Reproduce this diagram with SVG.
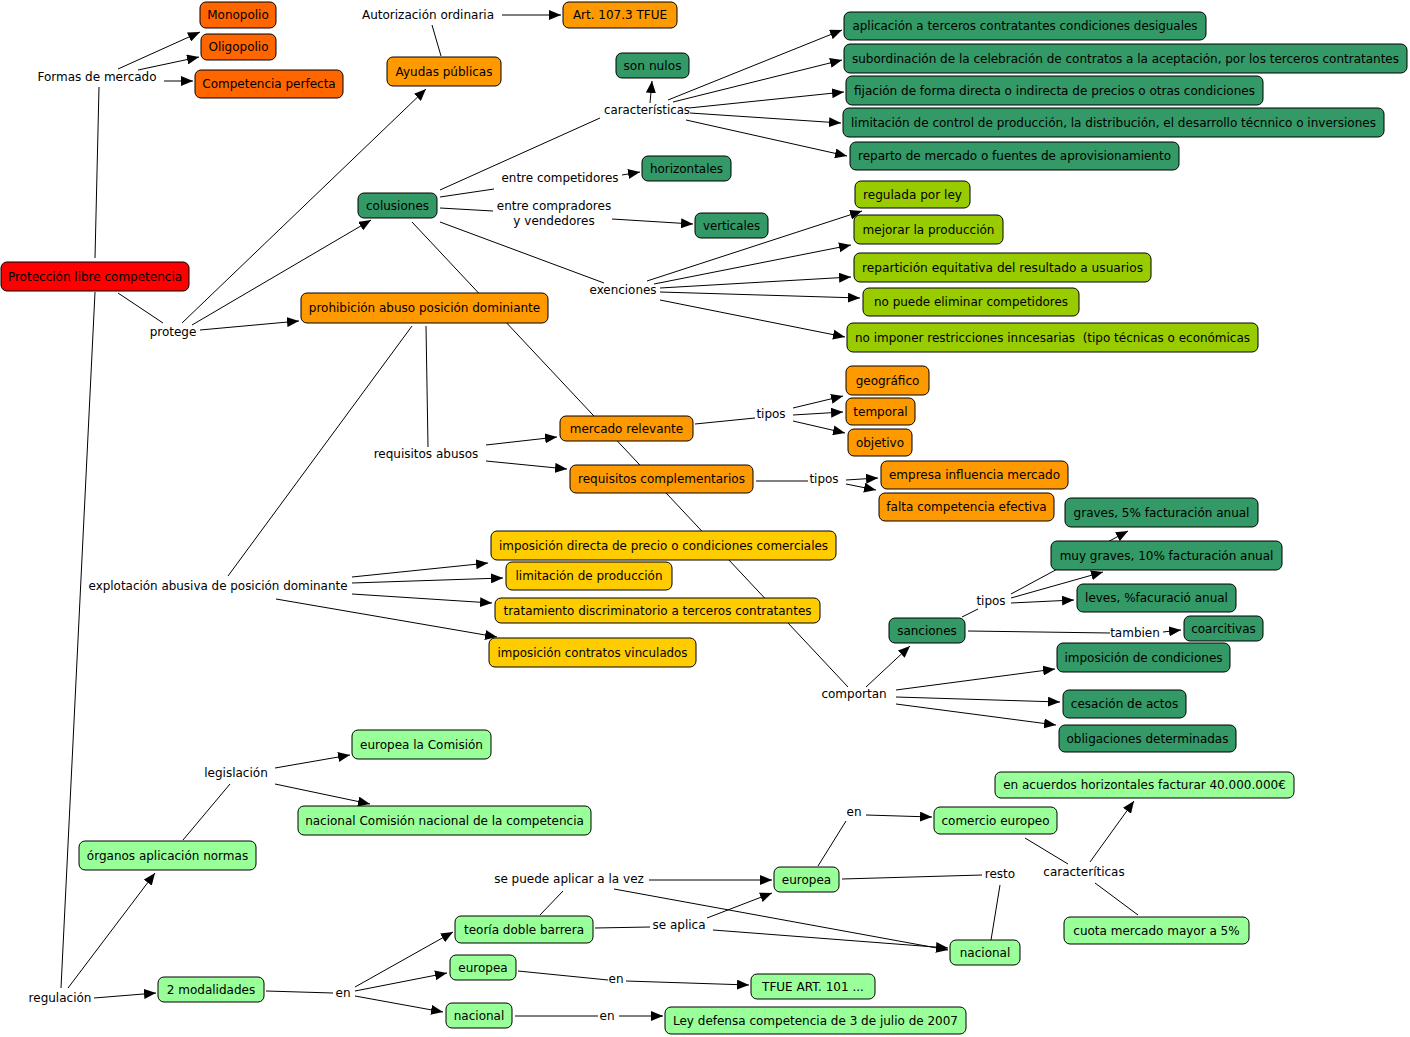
<svg xmlns="http://www.w3.org/2000/svg" width="1410" height="1037" viewBox="0 0 1410 1037">
<style>
text{font-family:"DejaVu Sans",Verdana,sans-serif;font-size:12px;fill:#000;text-anchor:middle}
.n rect{stroke:#000;stroke-width:1}
.o1 rect{fill:#ff6600}.o2 rect{fill:#ff9900}.g rect{fill:#339966}.l rect{fill:#99cc00}.y rect{fill:#ffcc00}.lg rect{fill:#99ff99}.r rect{fill:#ff0000}
#conn line{stroke:#000;stroke-width:1}
#conn .a{marker-end:url(#ah)}
</style>
<defs>
<marker id="ah" markerWidth="12" markerHeight="10" refX="12" refY="5" orient="auto" markerUnits="userSpaceOnUse"><path d="M0,0 L12,5 L0,10 z" fill="#000"/></marker>
</defs>
<rect width="1410" height="1037" fill="#fff"/>
<g id="conn">
<line class="a" x1="118" y1="69" x2="200" y2="32"/>
<line class="a" x1="138" y1="70" x2="199" y2="57"/>
<line class="a" x1="164" y1="81" x2="193" y2="81"/>
<line x1="95" y1="258" x2="99" y2="87"/>
<line class="a" x1="502" y1="15" x2="561" y2="15"/>
<line x1="441" y1="56" x2="432" y2="25"/>
<line class="a" x1="182" y1="323" x2="426" y2="89"/>
<line class="a" x1="192" y1="325" x2="371" y2="220"/>
<line class="a" x1="200" y1="330" x2="299" y2="321"/>
<line x1="118" y1="293" x2="163" y2="323"/>
<line x1="440" y1="190" x2="600" y2="118"/>
<line class="a" x1="650" y1="103" x2="652" y2="81"/>
<line class="a" x1="668" y1="100" x2="842" y2="30"/>
<line class="a" x1="673" y1="102" x2="842" y2="60"/>
<line class="a" x1="689" y1="108" x2="844" y2="92"/>
<line class="a" x1="690" y1="113" x2="841" y2="123"/>
<line class="a" x1="686" y1="120" x2="847" y2="156"/>
<line x1="440" y1="197" x2="494" y2="189"/>
<line x1="440" y1="208" x2="493" y2="211"/>
<line x1="440" y1="222" x2="604" y2="283"/>
<line x1="412" y1="222" x2="848" y2="687"/>
<line class="a" x1="622" y1="175" x2="640" y2="172"/>
<line class="a" x1="612" y1="219" x2="693" y2="224"/>
<line class="a" x1="647" y1="281" x2="862" y2="211"/>
<line class="a" x1="654" y1="284" x2="851" y2="245"/>
<line class="a" x1="660" y1="288" x2="851" y2="277"/>
<line class="a" x1="660" y1="292" x2="860" y2="298"/>
<line class="a" x1="660" y1="300" x2="845" y2="337"/>
<line x1="412" y1="326" x2="228" y2="576"/>
<line x1="426" y1="326" x2="428" y2="447"/>
<line class="a" x1="486" y1="445" x2="557" y2="437"/>
<line class="a" x1="486" y1="461" x2="567" y2="469"/>
<line x1="695" y1="424" x2="755" y2="418"/>
<line class="a" x1="793" y1="408" x2="843" y2="396"/>
<line class="a" x1="793" y1="415" x2="843" y2="412"/>
<line class="a" x1="793" y1="421" x2="845" y2="433"/>
<line x1="756" y1="481" x2="808" y2="481"/>
<line class="a" x1="846" y1="480" x2="878" y2="478"/>
<line class="a" x1="846" y1="484" x2="876" y2="490"/>
<line class="a" x1="352" y1="577" x2="488" y2="563"/>
<line class="a" x1="352" y1="583" x2="503" y2="578"/>
<line class="a" x1="352" y1="594" x2="492" y2="603"/>
<line class="a" x1="276" y1="599" x2="497" y2="637"/>
<line class="a" x1="866" y1="687" x2="910" y2="646"/>
<line class="a" x1="896" y1="690" x2="1055" y2="669"/>
<line class="a" x1="896" y1="697" x2="1060" y2="702"/>
<line class="a" x1="896" y1="704" x2="1056" y2="725"/>
<line x1="962" y1="617" x2="978" y2="609"/>
<line class="a" x1="1011" y1="594" x2="1128" y2="531"/>
<line class="a" x1="1011" y1="598" x2="1103" y2="572"/>
<line class="a" x1="1011" y1="603" x2="1074" y2="600"/>
<line x1="968" y1="631" x2="1110" y2="633"/>
<line class="a" x1="1163" y1="632" x2="1181" y2="630"/>
<line x1="95" y1="292" x2="61" y2="988"/>
<line class="a" x1="68" y1="988" x2="155" y2="873"/>
<line class="a" x1="94" y1="998" x2="156" y2="993"/>
<line x1="183" y1="840" x2="230" y2="784"/>
<line class="a" x1="275" y1="768" x2="350" y2="755"/>
<line class="a" x1="275" y1="784" x2="370" y2="804"/>
<line x1="266" y1="991" x2="333" y2="993"/>
<line class="a" x1="355" y1="987" x2="453" y2="932"/>
<line class="a" x1="355" y1="991" x2="447" y2="973"/>
<line class="a" x1="355" y1="996" x2="443" y2="1012"/>
<line x1="518" y1="971" x2="608" y2="980"/>
<line class="a" x1="626" y1="981" x2="749" y2="985"/>
<line x1="515" y1="1016" x2="598" y2="1016"/>
<line class="a" x1="619" y1="1016" x2="663" y2="1016"/>
<line x1="540" y1="915" x2="563" y2="891"/>
<line class="a" x1="649" y1="880" x2="772" y2="880"/>
<line class="a" x1="614" y1="889" x2="948" y2="950"/>
<line x1="595" y1="928" x2="650" y2="927"/>
<line class="a" x1="707" y1="918" x2="772" y2="893"/>
<line class="a" x1="713" y1="930" x2="948" y2="948"/>
<line x1="818" y1="866" x2="846" y2="821"/>
<line class="a" x1="866" y1="815" x2="932" y2="817"/>
<line x1="842" y1="879" x2="982" y2="875"/>
<line x1="991" y1="940" x2="1000" y2="885"/>
<line x1="1025" y1="838" x2="1068" y2="864"/>
<line class="a" x1="1090" y1="862" x2="1134" y2="801"/>
<line x1="1138" y1="915" x2="1095" y2="883"/>
</g>
<g id="n1" class="n o1"><rect x="200" y="2" width="76" height="26" rx="6"/><text x="238" y="19">Monopolio</text></g>
<g id="n2" class="n o1"><rect x="201" y="34" width="75" height="26" rx="6"/><text x="238.5" y="51">Oligopolio</text></g>
<g id="n3" class="n o1"><rect x="195" y="70" width="148" height="28" rx="6"/><text x="269" y="88">Competencia perfecta</text></g>
<g id="n4" class="n o2"><rect x="563" y="2" width="114" height="26" rx="6"/><text x="620" y="19">Art. 107.3 TFUE</text></g>
<g id="n5" class="n o2"><rect x="387" y="57" width="114" height="29" rx="6"/><text x="444" y="75.5">Ayudas públicas</text></g>
<g id="n6" class="n g"><rect x="616" y="53" width="73" height="25" rx="6"/><text x="652.5" y="69.5" textLength="58" lengthAdjust="spacingAndGlyphs">son nulos</text></g>
<g id="n7" class="n g"><rect x="844" y="12" width="362" height="28" rx="6"/><text x="1025" y="30" textLength="345" lengthAdjust="spacingAndGlyphs">aplicación a terceros contratantes condiciones desiguales</text></g>
<g id="n8" class="n g"><rect x="844" y="44" width="563" height="29" rx="6"/><text x="1125.5" y="62.5" textLength="547" lengthAdjust="spacingAndGlyphs">subordinación de la celebración de contratos a la aceptación, por los terceros contratantes</text></g>
<g id="n9" class="n g"><rect x="846" y="76" width="417" height="29" rx="6"/><text x="1054.5" y="94.5" textLength="401" lengthAdjust="spacingAndGlyphs">fijación de forma directa o indirecta de precios o otras condiciones</text></g>
<g id="n10" class="n g"><rect x="843" y="108" width="541" height="29" rx="6"/><text x="1113.5" y="126.5" textLength="525" lengthAdjust="spacingAndGlyphs">limitación de control de producción, la distribución, el desarrollo técnnico o inversiones</text></g>
<g id="n11" class="n g"><rect x="850" y="142" width="329" height="28" rx="6"/><text x="1014.5" y="160" textLength="313" lengthAdjust="spacingAndGlyphs">reparto de mercado o fuentes de aprovisionamiento</text></g>
<g id="n12" class="n g"><rect x="642" y="156" width="89" height="25" rx="6"/><text x="686.5" y="172.5" textLength="73" lengthAdjust="spacingAndGlyphs">horizontales</text></g>
<g id="n13" class="n g"><rect x="358" y="193" width="79" height="25" rx="6"/><text x="397.5" y="209.5">colusiones</text></g>
<g id="n14" class="n g"><rect x="695" y="213" width="73" height="25" rx="6"/><text x="731.5" y="229.5" textLength="57" lengthAdjust="spacingAndGlyphs">verticales</text></g>
<g id="n15" class="n l"><rect x="855" y="181" width="115" height="27" rx="6"/><text x="912.5" y="198.5" textLength="99" lengthAdjust="spacingAndGlyphs">regulada por ley</text></g>
<g id="n16" class="n l"><rect x="854" y="215" width="149" height="29" rx="6"/><text x="928.5" y="233.5" textLength="132" lengthAdjust="spacingAndGlyphs">mejorar la producción</text></g>
<g id="n17" class="n l"><rect x="854" y="253" width="297" height="29" rx="6"/><text x="1002.5" y="271.5" textLength="281" lengthAdjust="spacingAndGlyphs">repartición equitativa del resultado a usuarios</text></g>
<g id="n18" class="n l"><rect x="863" y="288" width="216" height="28" rx="6"/><text x="971" y="306" textLength="194" lengthAdjust="spacingAndGlyphs">no puede eliminar competidores</text></g>
<g id="n19" class="n l"><rect x="847" y="323" width="411" height="29" rx="6"/><text x="1052.5" y="341.5" textLength="395" lengthAdjust="spacingAndGlyphs" style="white-space:pre">no imponer restricciones inncesarias  (tipo técnicas o económicas</text></g>
<g id="n20" class="n r"><rect x="1" y="262" width="188" height="29" rx="6"/><text x="95" y="280.5">Protección libre competencia</text></g>
<g id="n21" class="n o2"><rect x="301" y="293" width="247" height="30" rx="6"/><text x="424.5" y="312">prohibición abuso posición dominiante</text></g>
<g id="n22" class="n o2"><rect x="560" y="416" width="133" height="25" rx="6"/><text x="626.5" y="432.5">mercado relevante</text></g>
<g id="n23" class="n o2"><rect x="846" y="366" width="83" height="29" rx="6"/><text x="887.5" y="384.5">geográfico</text></g>
<g id="n24" class="n o2"><rect x="846" y="398" width="69" height="27" rx="6"/><text x="880.5" y="415.5">temporal</text></g>
<g id="n25" class="n o2"><rect x="848" y="429" width="64" height="27" rx="6"/><text x="880" y="446.5">objetivo</text></g>
<g id="n26" class="n o2"><rect x="570" y="465" width="183" height="28" rx="6"/><text x="661.5" y="483">requisitos complementarios</text></g>
<g id="n27" class="n o2"><rect x="881" y="461" width="187" height="28" rx="6"/><text x="974.5" y="479">empresa influencia mercado</text></g>
<g id="n28" class="n o2"><rect x="879" y="493" width="175" height="28" rx="6"/><text x="966.5" y="511">falta competencia efectiva</text></g>
<g id="n29" class="n y"><rect x="491" y="531" width="345" height="29" rx="6"/><text x="663.5" y="549.5" textLength="329" lengthAdjust="spacingAndGlyphs">imposición directa de precio o condiciones comerciales</text></g>
<g id="n30" class="n y"><rect x="506" y="562" width="166" height="28" rx="6"/><text x="589" y="580" textLength="147" lengthAdjust="spacingAndGlyphs">limitación de producción</text></g>
<g id="n31" class="n y"><rect x="495" y="598" width="325" height="25" rx="6"/><text x="657.5" y="614.5" textLength="308" lengthAdjust="spacingAndGlyphs">tratamiento discriminatorio a terceros contratantes</text></g>
<g id="n32" class="n y"><rect x="489" y="638" width="207" height="29" rx="6"/><text x="592.5" y="656.5" textLength="190" lengthAdjust="spacingAndGlyphs">imposición contratos vinculados</text></g>
<g id="n33" class="n g"><rect x="1065" y="498" width="193" height="29" rx="6"/><text x="1161.5" y="516.5">graves, 5% facturación anual</text></g>
<g id="n34" class="n g"><rect x="1051" y="541" width="231" height="29" rx="6"/><text x="1166.5" y="559.5">muy graves, 10% facturación anual</text></g>
<g id="n35" class="n g"><rect x="1077" y="584" width="159" height="28" rx="6"/><text x="1156.5" y="602">leves, %facuració anual</text></g>
<g id="n36" class="n g"><rect x="889" y="618" width="76" height="25" rx="6"/><text x="927" y="634.5">sanciones</text></g>
<g id="n37" class="n g"><rect x="1184" y="616" width="79" height="25" rx="6"/><text x="1223.5" y="632.5">coarcitivas</text></g>
<g id="n38" class="n g"><rect x="1057" y="643" width="173" height="29" rx="6"/><text x="1143.5" y="661.5">imposición de condiciones</text></g>
<g id="n39" class="n g"><rect x="1063" y="690" width="123" height="28" rx="6"/><text x="1124.5" y="708">cesación de actos</text></g>
<g id="n40" class="n g"><rect x="1059" y="725" width="177" height="27" rx="6"/><text x="1147.5" y="742.5">obligaciones determinadas</text></g>
<g id="n41" class="n lg"><rect x="352" y="730" width="139" height="29" rx="6"/><text x="421.5" y="748.5">europea la Comisión</text></g>
<g id="n42" class="n lg"><rect x="298" y="806" width="293" height="29" rx="6"/><text x="444.5" y="824.5">nacional Comisión nacional de la competencia</text></g>
<g id="n43" class="n lg"><rect x="79" y="841" width="177" height="29" rx="6"/><text x="167.5" y="859.5">órganos aplicación normas</text></g>
<g id="n44" class="n lg"><rect x="995" y="772" width="299" height="26" rx="6"/><text x="1144.5" y="789">en acuerdos horizontales facturar 40.000.000€</text></g>
<g id="n45" class="n lg"><rect x="934" y="807" width="123" height="27" rx="6"/><text x="995.5" y="824.5">comercio europeo</text></g>
<g id="n46" class="n lg"><rect x="774" y="867" width="65" height="25" rx="6"/><text x="806.5" y="883.5">europea</text></g>
<g id="n47" class="n lg"><rect x="455" y="916" width="138" height="27" rx="6"/><text x="524" y="933.5">teoría doble barrera</text></g>
<g id="n48" class="n lg"><rect x="950" y="940" width="70" height="25" rx="6"/><text x="985" y="956.5">nacional</text></g>
<g id="n49" class="n lg"><rect x="1064" y="917" width="185" height="27" rx="6"/><text x="1156.5" y="934.5">cuota mercado mayor a 5%</text></g>
<g id="n50" class="n lg"><rect x="450" y="955" width="66" height="25" rx="6"/><text x="483" y="971.5">europea</text></g>
<g id="n51" class="n lg"><rect x="751" y="974" width="124" height="25" rx="6"/><text x="813" y="990.5">TFUE ART. 101 ...</text></g>
<g id="n52" class="n lg"><rect x="158" y="977" width="106" height="25" rx="6"/><text x="211" y="993.5">2 modalidades</text></g>
<g id="n53" class="n lg"><rect x="446" y="1003" width="66" height="25" rx="6"/><text x="479" y="1019.5">nacional</text></g>
<g id="n54" class="n lg"><rect x="665" y="1007" width="301" height="27" rx="6"/><text x="815.5" y="1024.5">Ley defensa competencia de 3 de julio de 2007</text></g>
<g id="l1"><text x="97" y="81">Formas de mercado</text></g>
<g id="l2"><text x="428" y="19">Autorización ordinaria</text></g>
<g id="l3"><text x="647" y="114" textLength="86" lengthAdjust="spacingAndGlyphs">características</text></g>
<g id="l4"><text x="560" y="182" textLength="117" lengthAdjust="spacingAndGlyphs">entre competidores</text></g>
<g id="l5"><text x="554" y="210">entre compradores</text><text x="554" y="225">y vendedores</text></g>
<g id="l6"><text x="623" y="294" textLength="67" lengthAdjust="spacingAndGlyphs">exenciones</text></g>
<g id="l7"><text x="173" y="336">protege</text></g>
<g id="l8"><text x="426" y="458">requisitos abusos</text></g>
<g id="l9"><text x="771" y="418">tipos</text></g>
<g id="l10"><text x="824" y="483">tipos</text></g>
<g id="l11"><text x="218" y="590" textLength="259" lengthAdjust="spacingAndGlyphs">explotación abusiva de posición dominante</text></g>
<g id="l12"><text x="991" y="605">tipos</text></g>
<g id="l13"><text x="1135" y="637">tambien</text></g>
<g id="l14"><text x="854" y="698">comportan</text></g>
<g id="l15"><text x="236" y="777">legislación</text></g>
<g id="l16"><text x="854" y="816">en</text></g>
<g id="l17"><text x="1084" y="876">caracteríticas</text></g>
<g id="l18"><text x="1000" y="878">resto</text></g>
<g id="l19"><text x="569" y="883">se puede aplicar a la vez</text></g>
<g id="l20"><text x="679" y="929">se aplica</text></g>
<g id="l21"><text x="616" y="983">en</text></g>
<g id="l22"><text x="60" y="1002">regulación</text></g>
<g id="l23"><text x="343" y="997">en</text></g>
<g id="l24"><text x="607" y="1020">en</text></g>
</svg>
